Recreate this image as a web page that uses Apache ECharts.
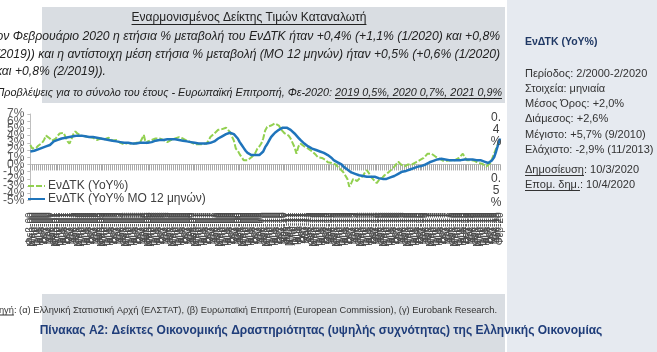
<!DOCTYPE html>
<html>
<head>
<meta charset="utf-8">
<script src="https://cdn.jsdelivr.net/npm/echarts@6/dist/echarts.min.js"></script>
<style>
  html, body { margin: 0; padding: 0; background: #fff; }
  #chart { width: 657px; height: 352px; }
</style>
</head>
<body>
<div id="chart"></div>
<script>
  // ΕνΔΤΚ μηνιαία, 2/2000 - 2/2020
  var monthNames = ['Ιαν', 'Φεβ', 'Μαρ', 'Απρ', 'Μαϊ', 'Ιουν', 'Ιουλ', 'Αυγ', 'Σεπ', 'Οκτ', 'Νοε', 'Δεκ'];
  var firstYear = 2000, firstMonth = 1, lastYear = 2020, lastMonth = 1;

  // ετήσια % μεταβολή (YoY%), ανά έτος
  var yoy2000 = [2.7, 2.2, 2.4, 2.3, 2.6, 2.7, 3.0, 3.4, 4.0, 3.8, 3.6];
  var yoy2001 = [3.3, 3.2, 3.6, 4.0, 4.3, 4.3, 4.4, 3.8, 3.2, 2.9, 3.5, 4.2];
  var yoy2002 = [4.6, 4.3, 4.1, 4.0, 3.8, 3.9, 3.7, 3.8, 3.6, 3.7, 3.5, 3.4];
  var yoy2003 = [3.5, 3.6, 3.4, 3.5, 3.6, 3.7, 3.5, 3.3, 3.4, 3.4, 3.2, 3.0];
  var yoy2004 = [3.0, 2.8, 2.9, 3.0, 2.9, 2.8, 2.9, 3.0, 3.1, 3.0, 3.2, 4.1];
  var yoy2005 = [2.9, 3.2, 3.3, 3.4, 3.5, 3.6, 3.7, 3.6, 3.5, 3.4, 3.2, 3.1];
  var yoy2006 = [3.2, 3.4, 3.5, 3.6, 3.7, 3.8, 3.7, 3.6, 3.5, 3.3, 3.2, 3.1];
  var yoy2007 = [3.0, 2.8, 2.7, 2.8, 2.9, 2.8, 2.9, 2.9, 3.3, 3.8, 4.0, 4.3];
  var yoy2008 = [4.5, 4.8, 5.0, 4.9, 5.0, 5.1, 4.9, 4.5, 3.9, 3.3, 2.2, 1.9];
  var yoy2009 = [1.4, 1.0, 0.6, 0.7, 0.6, 0.8, 1.0, 1.2, 1.6, 2.2, 2.5, 2.9];
  var yoy2010 = [3.6, 4.7, 5.2, 5.3, 5.4, 5.5, 5.7, 5.6, 5.4, 4.9, 4.6, 4.3];
  var yoy2011 = [4.2, 4.0, 3.6, 3.0, 2.4, 1.5, 2.5, 2.9, 2.7, 2.5, 2.3, 2.2];
  var yoy2012 = [2.0, 1.8, 1.6, 1.3, 1.0, 1.1, 0.9, 0.7, 0.6, 0.3, 0.4, 0.2];
  var yoy2013 = [0.1, 0.0, -0.3, -0.5, -0.8, -1.1, -1.3, -2.0, -3.1, -2.6, -2.0, -2.1];
  var yoy2014 = [-2.3, -2.0, -2.2, -1.6, -1.1, -0.8, -1.2, -1.7, -2.0, -2.3, -2.6, -2.2];
  var yoy2015 = [-2.0, -1.8, -1.5, -1.3, -1.1, -0.9, -0.6, -0.3, -0.1, 0.4, 0.1, -0.1];
  var yoy2016 = [-0.3, -0.2, 0.0, 0.1, 0.0, 0.2, 0.3, 0.4, 0.6, 0.8, 0.9, 1.2];
  var yoy2017 = [1.5, 1.6, 1.5, 1.3, 1.1, 0.9, 0.8, 0.7, 0.5, 0.4, 0.5, 0.6];
  var yoy2018 = [0.6, 0.5, 0.6, 0.7, 0.9, 1.2, 1.5, 1.0, 0.6, 0.4, 0.6, 0.6];
  var yoy2019 = [0.5, 0.4, 0.2, 0.2, 0.1, 0.0, -0.3, -0.5, 0.2, 0.8, 1.5, 2.2];
  var yoy2020 = [2.9, 3.5];

  // μέση ετήσια % μεταβολή (ΜΟ 12 μηνών)
  var ma2000 = [1.8, 1.8, 1.9, 2.0, 2.1, 2.2, 2.3, 2.4, 2.5, 2.6, 2.7];
  var ma2001 = [2.9, 3.2, 3.3, 3.4, 3.5, 3.6, 3.6, 3.7, 3.7, 3.8, 3.9, 3.9];
  var ma2002 = [4.0, 4.0, 4.0, 4.0, 4.0, 3.9, 3.9, 3.8, 3.8, 3.8, 3.7, 3.7];
  var ma2003 = [3.7, 3.6, 3.6, 3.5, 3.5, 3.4, 3.4, 3.3, 3.3, 3.2, 3.2, 3.1];
  var ma2004 = [3.1, 3.0, 3.0, 3.0, 2.9, 2.9, 2.9, 2.9, 2.9, 3.0, 3.0, 3.0];
  var ma2005 = [3.0, 3.0, 3.1, 3.1, 3.2, 3.3, 3.4, 3.4, 3.4, 3.4, 3.5, 3.5];
  var ma2006 = [3.5, 3.5, 3.5, 3.5, 3.5, 3.4, 3.4, 3.3, 3.3, 3.2, 3.2, 3.1];
  var ma2007 = [3.0, 3.0, 2.9, 2.9, 2.9, 2.9, 2.9, 2.9, 3.0, 3.0, 3.1, 3.2];
  var ma2008 = [3.4, 3.6, 3.8, 3.9, 4.0, 4.2, 4.3, 4.4, 4.4, 4.2, 4.0, 3.6];
  var ma2009 = [3.1, 2.7, 2.3, 1.9, 1.6, 1.4, 1.3, 1.3, 1.3, 1.3, 1.3, 1.4];
  var ma2010 = [1.8, 2.4, 2.8, 3.3, 3.8, 4.1, 4.4, 4.6, 4.8, 5.0, 5.1, 5.1];
  var ma2011 = [5.1, 5.0, 4.8, 4.6, 4.3, 4.0, 3.7, 3.4, 3.2, 2.9, 2.7, 2.5];
  var ma2012 = [2.4, 2.2, 2.1, 2.0, 1.9, 1.8, 1.7, 1.6, 1.5, 1.3, 1.1, 0.9];
  var ma2013 = [0.6, 0.5, 0.3, 0.1, 0.0, -0.3, -0.5, -0.7, -0.9, -1.1, -1.2, -1.3];
  var ma2014 = [-1.4, -1.5, -1.6, -1.6, -1.7, -1.7, -1.7, -1.7, -1.7, -1.7, -1.8, -1.9];
  var ma2015 = [-1.9, -2.0, -2.0, -2.0, -1.9, -1.8, -1.7, -1.6, -1.4, -1.3, -1.1, -1.0];
  var ma2016 = [-0.9, -0.9, -0.8, -0.7, -0.6, -0.5, -0.4, -0.3, -0.2, -0.2, -0.1, 0.0];
  var ma2017 = [0.2, 0.3, 0.4, 0.5, 0.6, 0.7, 0.8, 0.8, 0.7, 0.7, 0.6, 0.6];
  var ma2018 = [0.6, 0.6, 0.6, 0.6, 0.6, 0.6, 0.6, 0.7, 0.7, 0.7, 0.7, 0.7];
  var ma2019 = [0.7, 0.6, 0.6, 0.6, 0.5, 0.4, 0.3, 0.2, 0.3, 0.6, 1.0, 1.8];
  var ma2020 = [2.7, 3.6];

  // ετικέτες στο τέλος των γραμμών
  var endLabelYoy = '0.4%';
  var endLabelMa = '0.5%';

  var yTicks = { min: -5, max: 7, step: 1 };

  var seriesNames = ['ΕνΔΤΚ (YoY%)', 'ΕνΔΤΚ (YoY% ΜΟ 12 μηνών)'];

  var yoy = [].concat(yoy2000, yoy2001, yoy2002, yoy2003, yoy2004, yoy2005, yoy2006, yoy2007, yoy2008, yoy2009,
    yoy2010, yoy2011, yoy2012, yoy2013, yoy2014, yoy2015, yoy2016, yoy2017, yoy2018, yoy2019, yoy2020);
  var ma12 = [].concat(ma2000, ma2001, ma2002, ma2003, ma2004, ma2005, ma2006, ma2007, ma2008, ma2009,
    ma2010, ma2011, ma2012, ma2013, ma2014, ma2015, ma2016, ma2017, ma2018, ma2019, ma2020);

  var categories = [];
  for (var y = firstYear; y <= lastYear; y++) {
    for (var m = 0; m < 12; m++) {
      if (y === firstYear && m < firstMonth) continue;
      if (y === lastYear && m > lastMonth) break;
      categories.push(monthNames[m] + '-' + String(y).slice(2));
    }
  }

  var FONT = '"Liberation Sans", Arial, sans-serif';
  var measureCtx = document.createElement('canvas').getContext('2d');
  function textWidth(txt, font) {
    measureCtx.font = font;
    return measureCtx.measureText(txt).width;
  }
  // "0.4%" -> "0.\n4\n%" (στενό πλαίσιο στο πρωτότυπο)
  function narrow(s) {
    return s.slice(0, 2) + '\n' + s.slice(2, s.length - 1) + '\n' + s.slice(-1);
  }

  function txt(x, y, text, font, fill, align) {
    return {
      type: 'text', x: x, y: y, z: 10,
      style: { text: text, font: font, fill: fill || '#222', align: align || 'left', verticalAlign: 'middle' }
    };
  }
  function underline(x1, x2, y, color) {
    return {
      type: 'line', z: 10,
      shape: { x1: x1, y1: y, x2: x2, y2: y },
      style: { stroke: color || '#222', lineWidth: 1 }
    };
  }

  var graphics = [];
  // φόντα
  graphics.push({ type: 'rect', z: 0, shape: { x: 42, y: 7, width: 463, height: 96 }, style: { fill: '#d9dde2' } });
  graphics.push({ type: 'rect', z: 0, shape: { x: 507, y: 0, width: 150, height: 352 }, style: { fill: '#e6eaf0' } });
  graphics.push({ type: 'rect', z: 0, shape: { x: 42, y: 294, width: 463, height: 58 }, style: { fill: '#d9dde2' } });

  // κεφαλίδα
  var hTitle = 'Εναρμονισμένος Δείκτης Τιμών Καταναλωτή';
  var hFont = '12px ' + FONT;
  var hw = textWidth(hTitle, hFont);
  graphics.push(txt(249, 18, hTitle, hFont, '#222', 'center'));
  graphics.push(underline(249 - hw / 2, 249 + hw / 2, 24.5));

  var iFont = 'italic 12.2px ' + FONT;
  graphics.push(txt(500, 37, 'Τον Φεβρουάριο 2020 η ετήσια % μεταβολή του ΕνΔΤΚ ήταν +0,4% (+1,1% (1/2020) και +0,8%', iFont, '#222', 'right'));
  graphics.push(txt(500, 55, '(2/2019)) και η αντίστοιχη μέση ετήσια % μεταβολή (ΜΟ 12 μηνών) ήταν +0,5% (+0,6% (1/2020)', iFont, '#222', 'right'));
  graphics.push(txt(106, 72, 'και +0,8% (2/2019)).', iFont, '#222', 'right'));

  var fFont = 'italic 10.8px ' + FONT;
  var fcText = 'Προβλέψεις για το σύνολο του έτους - Ευρωπαϊκή Επιτροπή, Φε-2020: 2019 0,5%, 2020 0,7%, 2021 0,9%';
  var fcPart = '2019 0,5%, 2020 0,7%, 2021 0,9%';
  graphics.push(txt(502, 93, fcText, fFont, '#222', 'right'));
  graphics.push(underline(502 - textWidth(fcPart, fFont), 502, 98.5));

  // δεξιά στήλη
  var pFont = '11px ' + FONT;
  graphics.push(txt(525, 42, 'ΕνΔΤΚ (YoY%)', 'bold 10.5px ' + FONT, '#1f3864'));
  var panelLines = [
    ['Περίοδος: 2/2000-2/2020', 74],
    ['Στοιχεία: μηνιαία', 89],
    ['Μέσος Όρος: +2,0%', 104],
    ['Διάμεσος: +2,6%', 119],
    ['Μέγιστο: +5,7% (9/2010)', 135],
    ['Ελάχιστο: -2,9% (11/2013)', 150],
    ['Δημοσίευση: 10/3/2020', 170],
    ['Επομ. δημ.: 10/4/2020', 185]
  ];
  panelLines.forEach(function (l) { graphics.push(txt(525, l[1], l[0], pFont, '#333')); });
  graphics.push(underline(525, 525 + textWidth('Δημοσίευση', pFont), 175.5, '#333'));
  graphics.push(underline(525, 525 + textWidth('Επομ. δημ.', pFont), 190.5, '#333'));

  // πηγή και τίτλος πίνακα
  var sFont = '9.3px ' + FONT;
  var srcText = 'Πηγή: (α) Ελληνική Στατιστική Αρχή (ΕΛΣΤΑΤ), (β) Ευρωπαϊκή Επιτροπή (European Commission), (γ) Eurobank Research.';
  var sw = textWidth(srcText, sFont);
  graphics.push(txt(497, 310, srcText, sFont, '#333', 'right'));
  graphics.push(underline(497 - sw, 497 - sw + textWidth('Πηγή', sFont), 315, '#333'));
  graphics.push(txt(321, 331, 'Πίνακας A2: Δείκτες Οικονομικής Δραστηριότητας (υψηλής συχνότητας) της Ελληνικής Οικονομίας',
    'bold 12px ' + FONT, '#1f3d7a', 'center'));

  // οι ετικέτες του άξονα y επικαλύπτονται στο πρωτότυπο: μονές σε έναν άξονα, ζυγές σε δεύτερο
  function yLabel(odd) {
    return function (v) {
      var isOdd = Math.abs(v) % 2 === 1;
      return isOdd === odd ? v + '%' : '';
    };
  }
  var yLabelStyle = { fontSize: 12, color: '#595959', margin: 6, fontFamily: FONT, showMinLabel: true, showMaxLabel: true };

  var chart = echarts.init(document.getElementById('chart'), null, { renderer: 'canvas' });

  chart.setOption({
    animation: false,
    backgroundColor: '#ffffff',
    textStyle: { fontFamily: FONT },
    graphic: { elements: graphics },
    grid: { left: 30, right: 157, top: 114, height: 86.5, containLabel: false },
    legend: {
      orient: 'vertical',
      left: 27,
      top: 180,
      padding: 0,
      itemGap: 1,
      itemWidth: 17,
      itemHeight: 12,
      itemStyle: { opacity: 0 },
      textStyle: { fontSize: 12, color: '#404040', fontFamily: FONT, padding: [0, 0, 0, -2] },
      data: seriesNames
    },
    xAxis: [{
      type: 'category',
      data: categories,
      boundaryGap: false,
      axisLine: { onZero: true, lineStyle: { color: '#bfbfbf', width: 1 } },
      axisTick: { show: true, interval: 0, length: 6, lineStyle: { color: '#a8a8a8' } },
      axisLabel: { show: false },
      splitLine: { show: false }
    }, {
      type: 'category',
      data: categories,
      boundaryGap: false,
      position: 'bottom',
      axisLine: { show: false, onZero: false },
      axisTick: { show: false },
      axisLabel: {
        show: true,
        interval: 0,
        rotate: 90,
        margin: 12,
        fontSize: 10,
        color: '#4a4a4a',
        fontFamily: FONT
      },
      splitLine: { show: false }
    }],
    yAxis: [{
      type: 'value',
      position: 'left',
      min: yTicks.min,
      max: yTicks.max,
      interval: yTicks.step,
      axisLine: { show: true, onZero: false, lineStyle: { color: '#bfbfbf' } },
      axisTick: { show: true, length: 3, lineStyle: { color: '#bfbfbf' } },
      axisLabel: Object.assign({ formatter: yLabel(true) }, yLabelStyle),
      splitLine: { show: false }
    }, {
      type: 'value',
      position: 'left',
      offset: 0,
      min: yTicks.min,
      max: yTicks.max,
      interval: yTicks.step,
      axisLine: { show: false, onZero: false },
      axisTick: { show: false },
      axisLabel: Object.assign({ formatter: yLabel(false) }, yLabelStyle),
      splitLine: { show: false }
    }],
    series: [{
      name: seriesNames[0],
      type: 'line',
      xAxisIndex: 0,
      yAxisIndex: 0,
      data: yoy,
      symbol: 'none',
      color: '#92d050',
      lineStyle: { color: '#92d050', width: 2, type: [6, 2] },
      endLabel: {
        show: true,
        formatter: narrow(endLabelYoy),
        distance: 0,
        offset: [-4, -10],
        align: 'center',
        verticalAlign: 'middle',
        lineHeight: 12,
        fontSize: 12,
        color: '#404040',
        fontFamily: FONT
      }
    }, {
      name: seriesNames[1],
      type: 'line',
      xAxisIndex: 0,
      yAxisIndex: 0,
      data: ma12,
      symbol: 'none',
      color: '#1f74bb',
      lineStyle: { color: '#1f74bb', width: 2.5 },
      endLabel: {
        show: true,
        formatter: narrow(endLabelMa),
        distance: 0,
        offset: [-4, 52],
        align: 'center',
        verticalAlign: 'middle',
        lineHeight: 12,
        fontSize: 12,
        color: '#404040',
        fontFamily: FONT
      }
    }]
  });

  window.addEventListener('resize', function () {
    chart.resize();
  });
</script>
</body>
</html>
